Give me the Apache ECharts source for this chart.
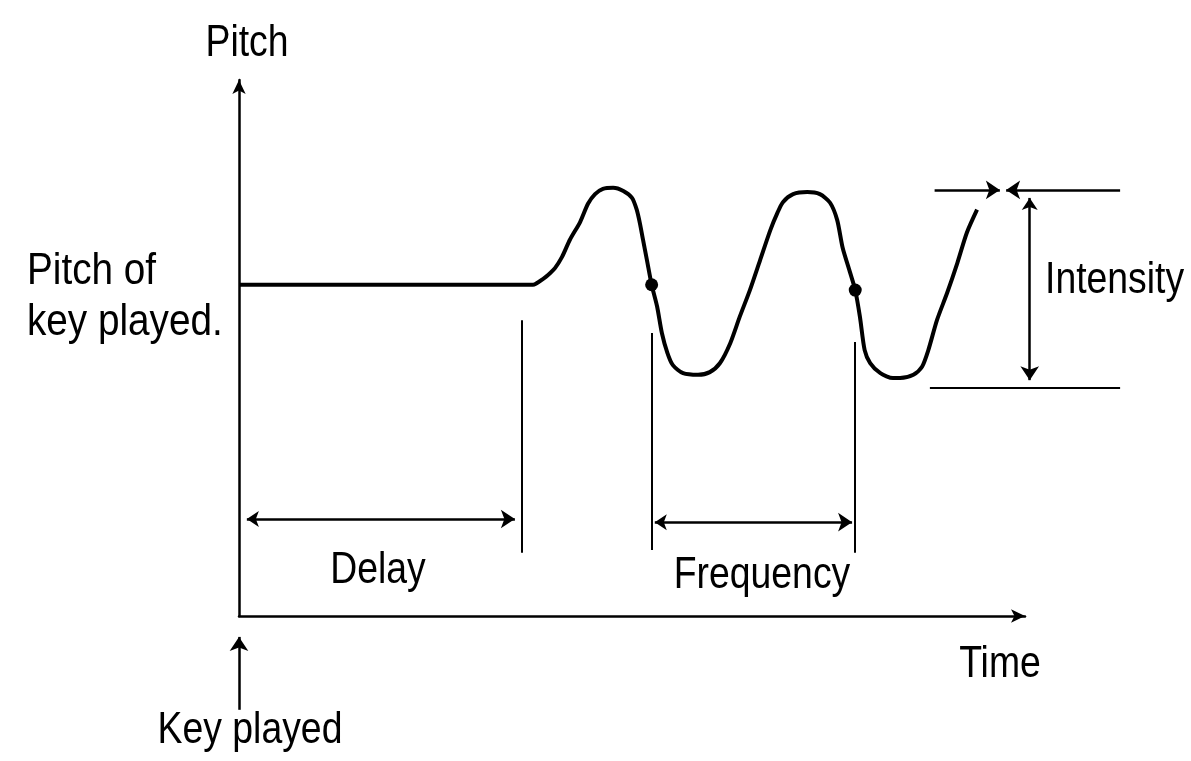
<!DOCTYPE html>
<html><head><meta charset="utf-8">
<script src="https://cdn.jsdelivr.net/npm/echarts@6/dist/echarts.min.js"></script>
<style>html,body{margin:0;padding:0;background:#fff}#c{width:1191px;height:761px}</style>
</head><body><div id="c"></div>
<script>
// Pitch curve (time units, pitch units)
const curveTime  = [0, 37.4, 38.7, 39.6, 40.2, 41.1, 42.1, 43.4, 44.4, 45.3, 46.3, 47.6, 48.9, 50.0, 50.6, 51.0, 51.4, 51.9, 52.5, 53.2, 53.8, 54.5, 55.2, 56.5, 58.4, 59.9, 61.2, 62.5, 63.7, 65.0, 66.3, 67.6, 68.5, 69.2, 70.5, 72.3, 73.9, 75.2, 76.1, 76.8, 77.7, 78.4, 79.0, 79.6, 80.3, 81.6, 83.2, 84.1, 85.8, 86.9, 87.7, 88.8, 90.1, 91.4, 92.6, 93.9];
const curvePitch = [61.8, 61.8, 62.9, 64.0, 64.9, 67.0, 70.2, 73.5, 76.9, 78.7, 79.7, 79.9, 79.3, 78.0, 75.8, 73.3, 70.2, 66.4, 61.8, 57.7, 52.8, 49.1, 46.8, 45.3, 45.0, 45.5, 47.2, 50.9, 55.8, 60.8, 66.4, 72.0, 75.2, 77.2, 78.7, 79.1, 78.7, 77.1, 73.9, 68.7, 64.3, 60.8, 55.8, 49.6, 47.2, 45.3, 44.4, 44.4, 45.0, 46.5, 49.6, 55.2, 60.3, 65.9, 71.5, 75.8];
const markedPoints = [[52.5, 61.8], [78.4, 60.8]];

// annotation segments
const delayArrow      = [[1.0, 18.1], [35.1, 18.1]];
const frequencyArrow  = [[52.9, 17.5], [78.0, 17.5]];
const intensityArrow  = [[100.6, 78.0], [100.6, 44.0]];
const keyPlayedArrow  = [[0, -17.5], [0, -3.9]];
const peakMarkLeft    = [[88.5, 79.5], [96.8, 79.5]];
const peakMarkRight   = [[112.1, 79.5], [97.6, 79.5]];
const delayEnd        = [[36.0, 55.2], [36.0, 11.8]];
const freqStart       = [[52.5, 52.8], [52.5, 12.3]];
const freqEnd         = [[78.4, 51.1], [78.4, 11.8]];
const troughLevel     = [[87.9, 42.5], [112.1, 42.5]];

const labels = ['Pitch', 'Pitch of', 'key played.', 'Delay', 'Frequency', 'Time', 'Key played', 'Intensity'];

const FONT = '45px "Liberation Sans", Arial, sans-serif';
const chart = echarts.init(document.getElementById('c'));
const axisCommon = {
  type: 'value', min: 0, max: 100,
  axisLine: { show: true, symbol: ['none', 'arrow'], symbolSize: [10, 14], lineStyle: { color: '#000', width: 2.5 } },
  axisTick: { show: false }, axisLabel: { show: false }, splitLine: { show: false }
};
function txt(t, x, y, align, sx) {
  return { type: 'text', x: x, y: y, scaleX: sx || 0.83, silent: true,
    style: { text: t, x: 0, y: 0, font: FONT, fill: '#000', textAlign: align, textVerticalAlign: 'middle' } };
}
chart.setOption({
  backgroundColor: '#fff',
  animation: false,
  grid: { left: 239, right: 166, top: 80, bottom: 145 },
  xAxis: axisCommon,
  yAxis: axisCommon,
  series: [
    { type: 'line', data: curveTime.map((t, i) => [t, curvePitch[i]]), smooth: 0.25,
      showSymbol: false, clip: false, lineStyle: { color: '#000', width: 4 } },
    { type: 'scatter', data: markedPoints, symbol: 'circle', symbolSize: 13, itemStyle: { color: '#000', opacity: 1 }, clip: false },
    { type: 'lines', coordinateSystem: 'cartesian2d', clip: false, symbol: ['arrow', 'arrow'], symbolSize: [12, 14],
      lineStyle: { color: '#000', width: 2.5, opacity: 1 },
      data: [{ coords: delayArrow }, { coords: frequencyArrow }, { coords: intensityArrow }] },
    { type: 'lines', coordinateSystem: 'cartesian2d', clip: false, symbol: ['none', 'arrow'], symbolSize: [12, 14],
      lineStyle: { color: '#000', width: 2.5, opacity: 1 },
      data: [{ coords: keyPlayedArrow }, { coords: peakMarkLeft }, { coords: peakMarkRight }] },
    { type: 'lines', coordinateSystem: 'cartesian2d', clip: false, symbol: 'none',
      lineStyle: { color: '#000', width: 2, opacity: 1 },
      data: [{ coords: delayEnd }, { coords: freqStart }, { coords: freqEnd }, { coords: troughLevel }] }
  ],
  graphic: [
    txt(labels[0], 247, 44, 'center'),
    txt(labels[1], 27, 272, 'left', 0.86),
    txt(labels[2], 27, 323, 'left', 0.86),
    txt(labels[3], 378, 571, 'center'),
    txt(labels[4], 762, 576, 'center'),
    txt(labels[5], 1000, 665, 'center'),
    txt(labels[6], 250, 731, 'center'),
    txt(labels[7], 1045, 281, 'left')
  ]
});
</script></body></html>
